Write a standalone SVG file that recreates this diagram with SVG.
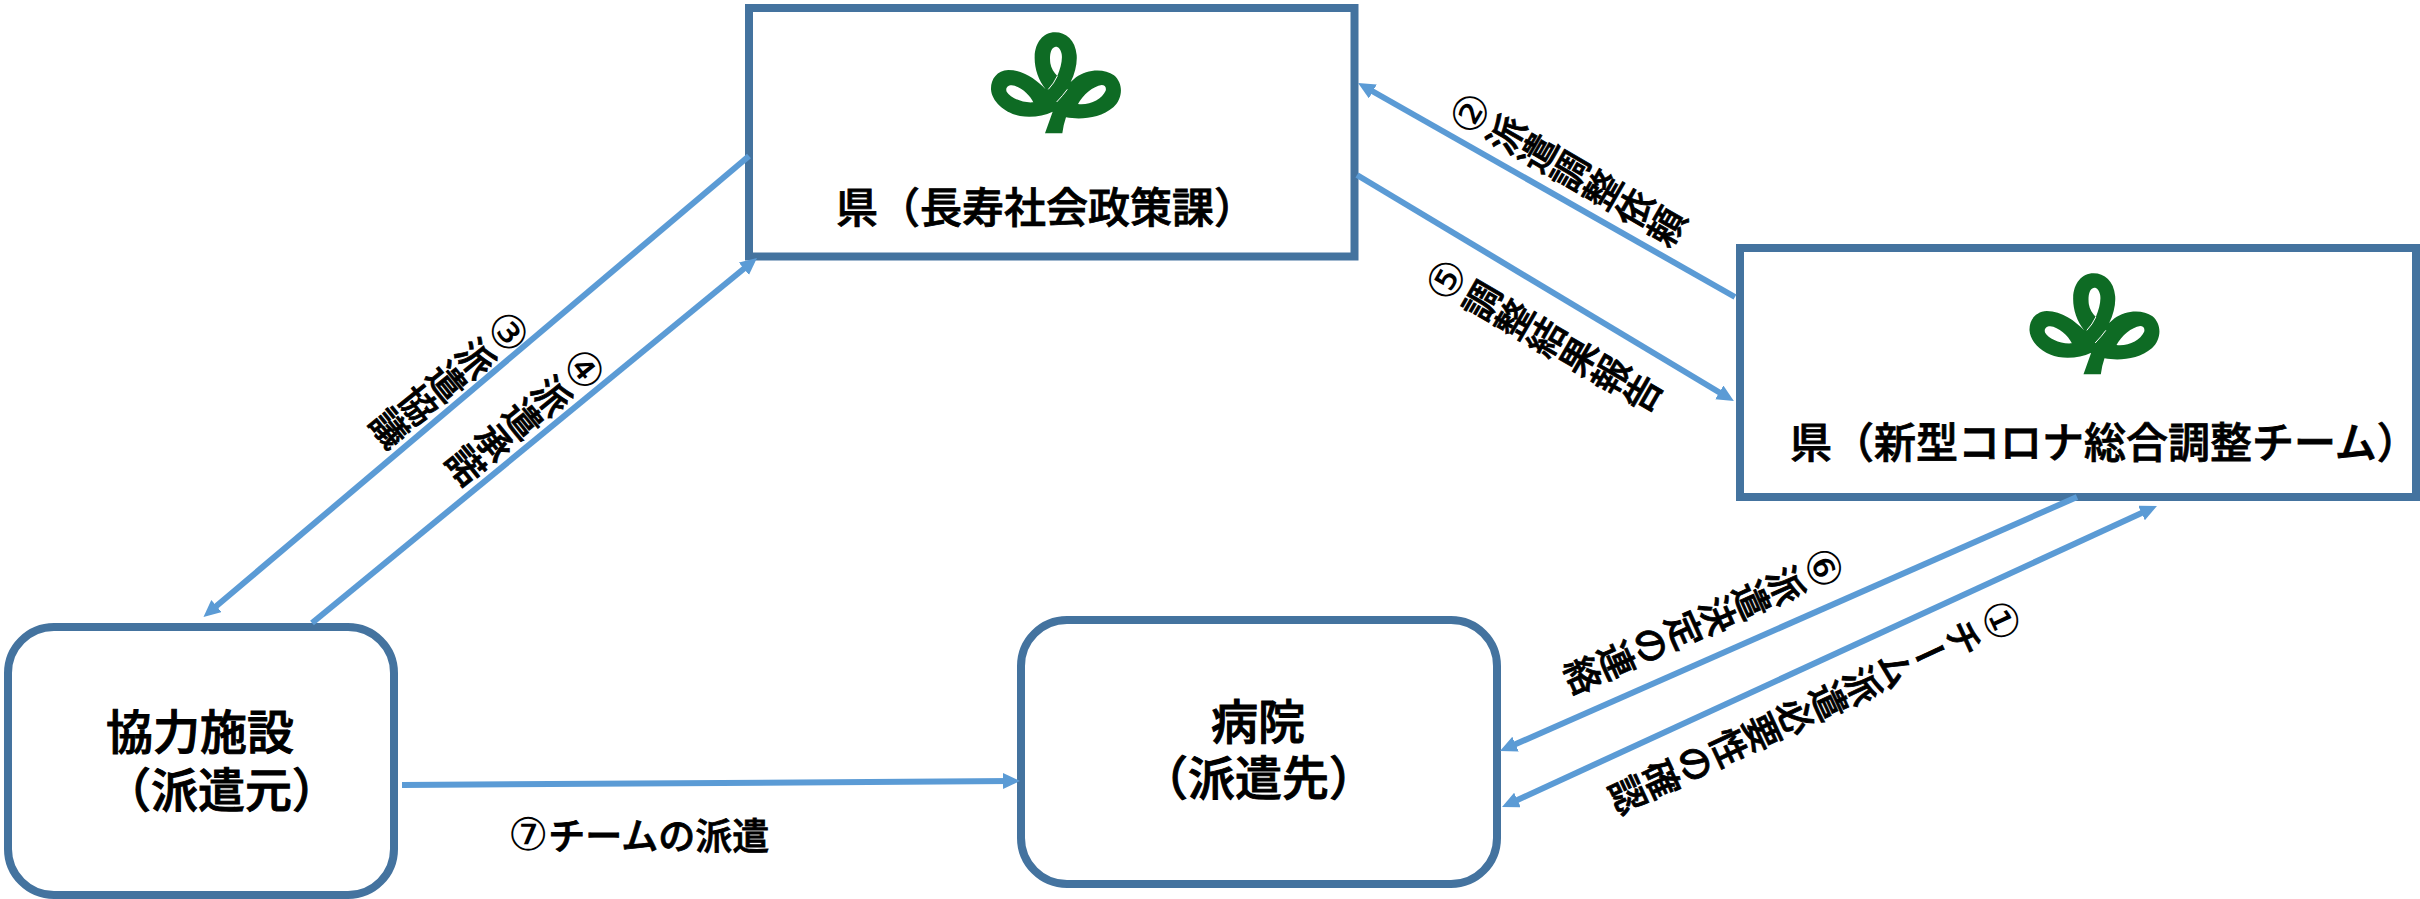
<svg xmlns="http://www.w3.org/2000/svg" width="2420" height="899" viewBox="0 0 2420 899">
<style>
.box{fill:#fff;stroke:#44739F;stroke-width:8}
.conn{fill:none;stroke:#5B9BD5;stroke-width:6}
.end{marker-end:url(#head)}
text{font-family:"Noto Sans CJK JP","Noto Sans",sans-serif;fill:#000;font-weight:500;stroke:#000;stroke-width:.8px}
.t42{font-size:42px}
.t47{font-size:47px;stroke-width:1px}
.t37{font-size:37px}
.v{font-size:37px;writing-mode:vertical-rl;text-anchor:middle}
.num{font-family:"DejaVu Sans",sans-serif;font-weight:400;font-size:45px;letter-spacing:-4px;stroke:none}
.t37 .num{letter-spacing:0}
</style>
<defs>
<marker id="head" markerUnits="userSpaceOnUse" markerWidth="18" markerHeight="18" refX="9" refY="8" orient="auto-start-reverse"><path d="M0 0L17 8L0 16Z" fill="#5B9BD5"/></marker>
<g id="logo">
<path fill="#0E6B24" fill-rule="evenodd" d="M435 400L487 400Q490 375 498 352C540 360 600 356 640 322C668 296 672 252 642 226C612 204 560 208 528 232L512 246C525 220 532 190 530 165C526 120 498 97 465 97C430 97 405 128 404 170C403 205 415 240 437 268C410 240 370 210 325 210C290 212 272 238 273 268C275 305 315 340 360 348C395 354 430 348 458 335ZM467 140C452 142 448 165 451 190C453 205 462 218 472 228C482 205 488 180 485 162C482 148 476 140 467 140ZM335 256C322 256 316 266 320 275C330 292 365 310 400 307C390 285 360 258 335 256ZM605 255C580 258 548 285 534 312C570 316 605 298 617 272C620 262 614 255 605 255Z"/>
<path fill="none" stroke="#fff" stroke-width="3" d="M472 228Q462 250 445 268M502 268Q490 285 470 306"/>
</g>
</defs>
<g id="node-prefecture">
<rect class="box" x="749" y="8" width="605.500" height="248.500"/>
<use href="#logo" transform="translate(900 0) scale(.33333)"/>
<text class="t42" x="836" y="223">県（長寿社会政策課）</text>
</g>
<g id="node-team">
<rect class="box" x="1740" y="248" width="676" height="249"/>
<use href="#logo" transform="translate(1938.500 241) scale(.33333)"/>
<text class="t42" x="1790" y="458">県（新型コロナ総合調整チーム）</text>
</g>
<g id="node-partner">
<rect class="box" x="8" y="627" width="386" height="268" rx="46" ry="46"/>
<text class="t47" x="106" y="749">協力施設</text>
<text class="t47" x="104" y="807">（派遣元）</text>
</g>
<g id="node-hospital">
<rect class="box" x="1021" y="620" width="476" height="264" rx="46" ry="46"/>
<text class="t47" x="1211" y="739">病院</text>
<text class="t47" x="1141" y="795">（派遣先）</text>
</g>
<g id="connectors">
<path class="conn end" d="M1735 297L1365 87"/>
<path class="conn end" d="M1357 175L1727 397"/>
<path class="conn end" d="M749 156L209.600 611.800"/>
<path class="conn end" d="M312 623L750.800 263"/>
<path class="conn end" d="M402 785L1012 781"/>
<path class="conn end" d="M2077 497L1507.300 747.800"/>
<path class="conn end" style="marker-start:url(#head)" d="M1509.300 803.700L2149.700 509.300"/>
</g>
<g id="labels">
<text class="v" transform="translate(1565 168) rotate(-60)"><tspan class="num">②</tspan>派遣調整依頼</text>
<text class="v" transform="translate(1541 334.500) rotate(-60)"><tspan class="num">⑤</tspan>調整結果報告</text>
<text class="v" transform="translate(452 377.500) rotate(51)"><tspan class="num">③</tspan>派遣協議</text>
<text class="v" transform="translate(528 415) rotate(51)"><tspan class="num">④</tspan>派遣承諾</text>
<text class="v" transform="translate(1707 620) rotate(66)"><tspan class="num">⑥</tspan>派遣決定の連絡</text>
<text class="v" transform="translate(1818 706) rotate(65)"><tspan class="num">①</tspan>チーム派遣必要性の確認</text>
<text class="t37" x="508" y="850"><tspan class="num">⑦</tspan>チームの派遣</text>
</g>
</svg>
